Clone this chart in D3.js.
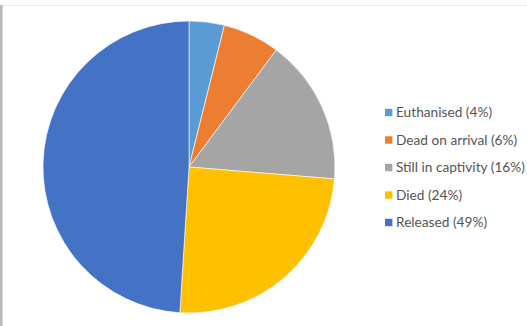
<!DOCTYPE html>
<html><head><meta charset="utf-8">
<script src="https://cdn.jsdelivr.net/npm/d3@7"></script>
<style>html,body{margin:0;padding:0;background:#fff;}svg{display:block;}</style>
</head><body>
<script>
const categories = ["Euthanised", "Dead on arrival", "Still in captivity", "Died", "Released"];
const values = [3.9, 6.3, 16.1, 24.7, 49.0];
const labels = ["Euthanised (4%)", "Dead on arrival (6%)", "Still in captivity (16%)", "Died (24%)", "Released (49%)"];
const colors = ["#5B9BD5", "#ED7D31", "#A5A5A5", "#FFC000", "#4472C4"];

const W = 527, H = 326;
const svg = d3.select("body").append("svg").attr("width", W).attr("height", H);

// frame lines
svg.append("rect").attr("x", 0).attr("y", 5).attr("width", W).attr("height", 1).attr("fill", "#ececec");
svg.append("rect").attr("x", 0).attr("y", 5).attr("width", 2.5).attr("height", H - 5).attr("fill", "#b8b8b8");

const cx = 189, cy = 167, r = 146;
const pie = d3.pie().sort(null).value(d => d)(values);
const arc = d3.arc().innerRadius(0).outerRadius(r);
const g = svg.append("g").attr("transform", `translate(${cx},${cy})`);
g.selectAll("path").data(pie).join("path")
  .attr("d", arc)
  .attr("fill", (d, i) => colors[i])
  .attr("stroke", "#fff").attr("stroke-width", 0.6);

// legend
const lx = 385, ly0 = 112.5, step = 27.5;
const lg = svg.append("g");
const rows = lg.selectAll("g").data(categories).join("g")
  .attr("transform", (d, i) => `translate(${lx},${ly0 + i * step})`);
rows.append("rect").attr("x", 0).attr("y", -3.7).attr("width", 7.4).attr("height", 7.4)
  .attr("fill", (d, i) => colors[i]);
const texts = rows.append("text").attr("x", 11).attr("y", 0).attr("dy", "0.36em")
  .attr("fill", "#555")
  .style("font-family", "Lato, 'Open Sans', sans-serif")
  .style("font-size", "13px")
  .text((d, i) => labels[i]);
// fit width of longest label to reference (~129px)
const len = texts.nodes()[2].getComputedTextLength();
const fs = 13 * 129 / len;
texts.style("font-size", fs + "px");
</script>
</body></html>
